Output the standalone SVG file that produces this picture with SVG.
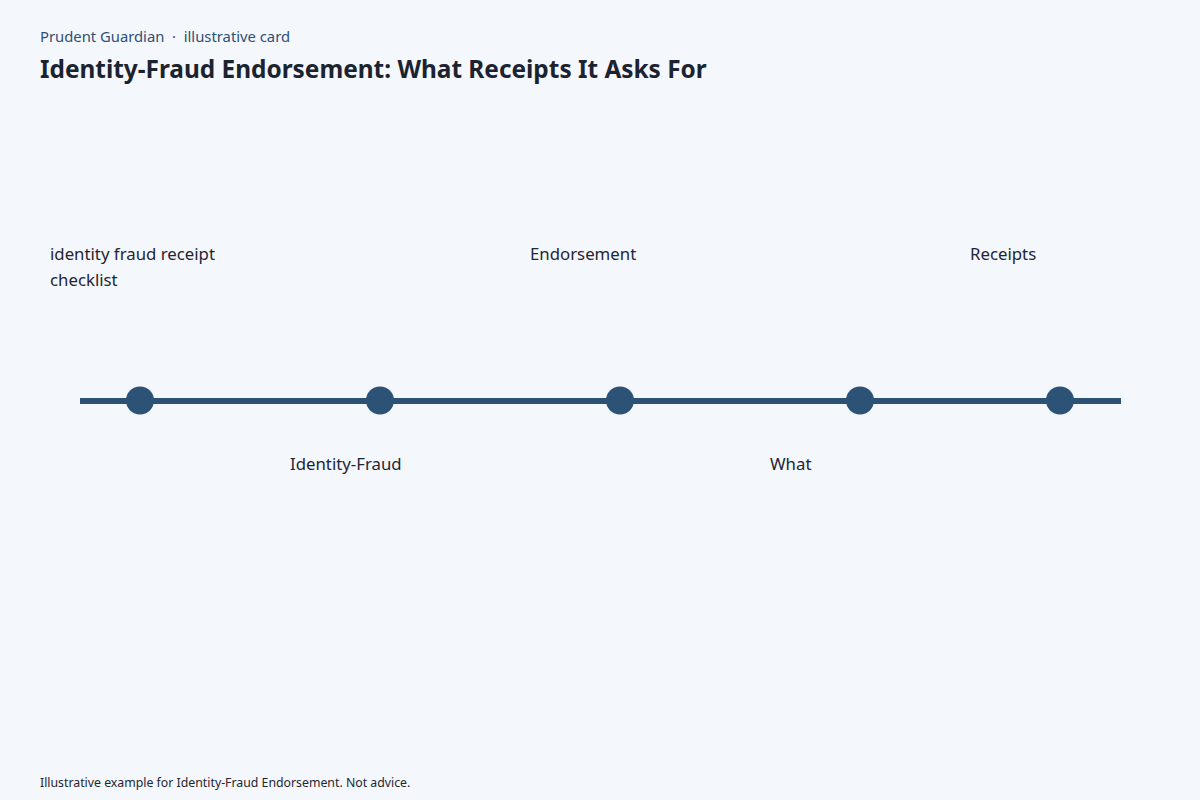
<svg xmlns="http://www.w3.org/2000/svg" width="1200" height="800" viewBox="0 0 1200 800">
<style>
.bg{fill:#f4f7fb}
.kicker{font-family:"Noto Sans","Open Sans",sans-serif;font-size:14.8px;fill:#2d5078;white-space:pre}
.title{font-family:"Noto Sans","Open Sans",sans-serif;font-size:24.4px;font-weight:700;fill:#1c2330}
.lbl{font-family:"Noto Sans","Open Sans",sans-serif;font-size:16.8px;fill:#1f2633}
.foot{font-family:"Noto Sans","Open Sans",sans-serif;font-size:12.3px;fill:#1f2633}
.dot{fill:#2c5276}
.axis{stroke:#2c5276;stroke-width:6;fill:none}
</style>
<rect class="bg" x="0" y="0" width="1200" height="800"/>
<text class="kicker" x="40" y="42" xml:space="preserve">Prudent Guardian  ·  illustrative card</text>
<text class="title" x="40" y="78">Identity-Fraud Endorsement: What Receipts It Asks For</text>
<g id="connectors">
<line class="axis" x1="80" y1="401" x2="1121" y2="401"/>
</g>
<g id="node-checklist">
<circle class="dot" cx="140" cy="400.5" r="14"/>
<text class="lbl" x="50" y="260">identity fraud receipt</text>
<text class="lbl" x="50" y="286">checklist</text>
</g>
<g id="node-identity-fraud">
<circle class="dot" cx="380" cy="400.5" r="14"/>
<text class="lbl" x="290" y="470">Identity-Fraud</text>
</g>
<g id="node-endorsement">
<circle class="dot" cx="620" cy="400.5" r="14"/>
<text class="lbl" x="530" y="260">Endorsement</text>
</g>
<g id="node-what">
<circle class="dot" cx="860" cy="400.5" r="14"/>
<text class="lbl" x="770" y="470">What</text>
</g>
<g id="node-receipts">
<circle class="dot" cx="1060" cy="400.5" r="14"/>
<text class="lbl" x="970" y="260">Receipts</text>
</g>
<text class="foot" x="40" y="787">Illustrative example for Identity-Fraud Endorsement. Not advice.</text>
</svg>
